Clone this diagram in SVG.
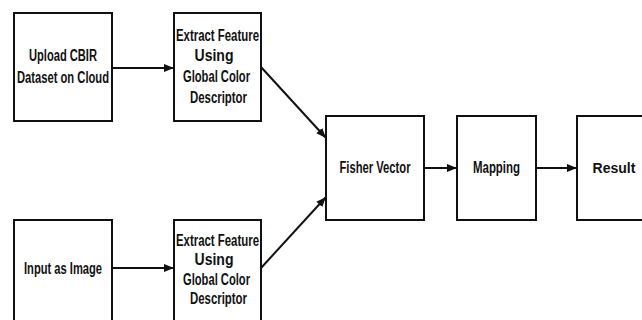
<svg xmlns="http://www.w3.org/2000/svg" width="642" height="320" viewBox="0 0 642 320">
<style>
.box{fill:#fff;stroke:#111;stroke-width:2}
.t{font-family:"Liberation Sans",Arial,sans-serif;font-size:16px;font-weight:bold;fill:#111;text-anchor:middle}
.c{stroke:#111;stroke-width:2;fill:none;marker-end:url(#ah)}
</style>
<defs>
<marker id="ah" markerUnits="userSpaceOnUse" markerWidth="10" markerHeight="8" refX="10" refY="4" orient="auto">
<path d="M0,0 L10,4 L0,8 z" fill="#111"/>
</marker>
</defs>
<rect width="642" height="320" fill="#fff"/>
<g id="connectors">
<line class="c" x1="112" y1="68" x2="174" y2="68"/>
<line class="c" x1="112" y1="268" x2="174" y2="268"/>
<line class="c" x1="261" y1="67" x2="326" y2="138"/>
<line class="c" x1="261" y1="268" x2="326" y2="197"/>
<line class="c" x1="424" y1="168" x2="457" y2="168"/>
<line class="c" x1="536" y1="168" x2="577" y2="168"/>
</g>
<g id="upload">
<rect class="box" x="14" y="13" width="98" height="108"/>
<text class="t" x="63" y="61" textLength="68" lengthAdjust="spacingAndGlyphs">Upload CBIR</text>
<text class="t" x="63" y="83" textLength="92" lengthAdjust="spacingAndGlyphs">Dataset on Cloud</text>
</g>
<g id="extract1">
<rect class="box" x="174" y="13" width="87" height="108"/>
<text class="t" x="217.5" y="40.5" textLength="83" lengthAdjust="spacingAndGlyphs">Extract Feature</text>
<text class="t" x="214" y="61" textLength="39" lengthAdjust="spacingAndGlyphs">Using</text>
<text class="t" x="216.5" y="81.5" textLength="67" lengthAdjust="spacingAndGlyphs">Global Color</text>
<text class="t" x="218.5" y="102.5" textLength="57" lengthAdjust="spacingAndGlyphs">Descriptor</text>
</g>
<g id="input">
<path class="box" d="M14,320 V220 H112 V320"/>
<text class="t" x="63" y="274" textLength="78" lengthAdjust="spacingAndGlyphs">Input as Image</text>
</g>
<g id="extract2">
<path class="box" d="M174,320 V220 H261 V320"/>
<text class="t" x="217.5" y="245.5" textLength="83" lengthAdjust="spacingAndGlyphs">Extract Feature</text>
<text class="t" x="214" y="264.5" textLength="39" lengthAdjust="spacingAndGlyphs">Using</text>
<text class="t" x="216.5" y="285" textLength="67" lengthAdjust="spacingAndGlyphs">Global Color</text>
<text class="t" x="218.5" y="304" textLength="57" lengthAdjust="spacingAndGlyphs">Descriptor</text>
</g>
<g id="fisher">
<rect class="box" x="326" y="116" width="98" height="104"/>
<text class="t" x="375" y="173" textLength="71" lengthAdjust="spacingAndGlyphs">Fisher Vector</text>
</g>
<g id="mapping">
<rect class="box" x="457" y="116" width="79" height="104"/>
<text class="t" x="496.5" y="173" textLength="47" lengthAdjust="spacingAndGlyphs">Mapping</text>
</g>
<g id="result">
<path class="box" d="M642,116 H577 V220 H642"/>
<text class="t" x="614" y="173" style="font-size:14px">Result</text>
</g>
</svg>
